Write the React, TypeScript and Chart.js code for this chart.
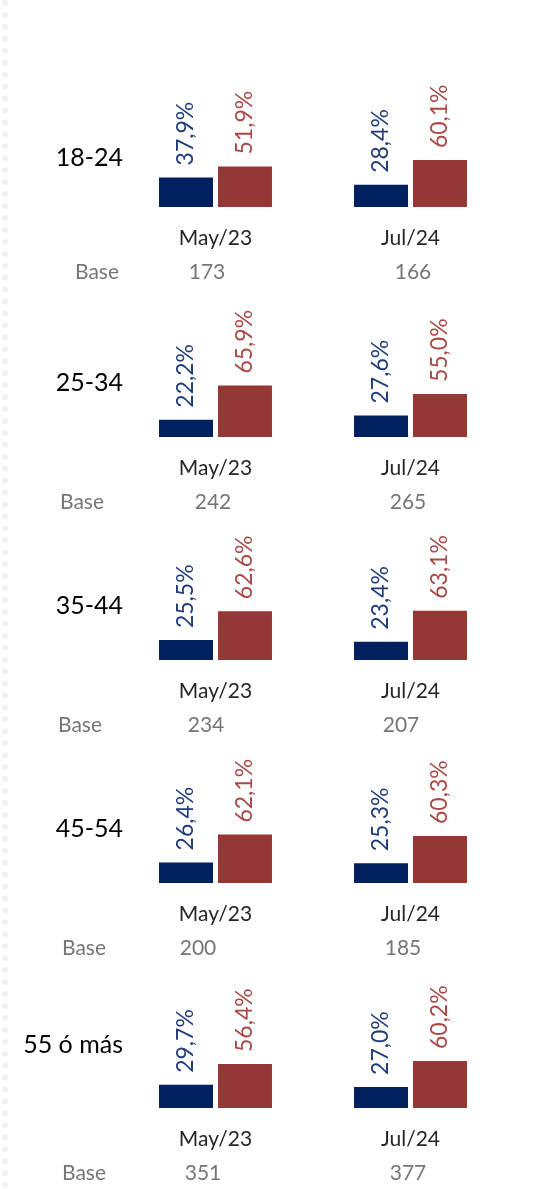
import React, { useEffect, useRef } from "react";
import { Chart, registerables } from "chart.js";

Chart.register(...registerables);

// ---- data ----
const ageGroups = ["18-24", "25-34", "35-44", "45-54", "55 ó más"];
const periods = ["May/23", "Jul/24"];
const blueValues = [
  [37.9, 28.4],
  [22.2, 27.6],
  [25.5, 23.4],
  [26.4, 25.3],
  [29.7, 27.0],
];
const redValues = [
  [51.9, 60.1],
  [65.9, 55.0],
  [62.6, 63.1],
  [62.1, 60.3],
  [56.4, 60.2],
];
const baseCounts = [
  [173, 166],
  [242, 265],
  [234, 207],
  [200, 185],
  [351, 377],
];
const baseLabel = "Base";

// ---- layout / style ----
const W = 539;
const H = 1189;
const PANEL_BASELINE = [207, 437, 660, 883, 1108];
const GROUP_LABEL_DY = [-49, -54, -54, -54, -63];
const BASE_LABEL_X = [75, 60, 58, 62, 62];
const BASE_NUM_X = [
  [207, 413],
  [213, 408],
  [206, 401],
  [198, 403],
  [203, 408],
];
const ABOVE = 135;
const BELOW = 85;
const PLOT_H = 78;
const AXIS_H = 44;
const FONT = "Lato, 'Open Sans', sans-serif";
const BLUE = "#002060";
const RED = "#953735";
const BLUE_TXT = "#203C7C";
const RED_TXT = "#AA4846";

const fmt = (v: number) => v.toFixed(1).replace(".", ",") + "%";

function Panel({ idx }: { idx: number }) {
  const ref = useRef<HTMLCanvasElement | null>(null);
  useEffect(() => {
    if (!ref.current) return;
    const labelPlugin = {
      id: "panelLabels",
      afterDatasetsDraw(chart: any) {
        const ctx = chart.ctx;
        ctx.save();
        ctx.font = `23px ${FONT}`;
        chart.data.datasets.forEach((ds: any, di: number) => {
          const meta = chart.getDatasetMeta(di);
          meta.data.forEach((bar: any, i: number) => {
            const v = ds.data[i];
            ctx.save();
            ctx.translate(bar.x, bar.y - 12);
            ctx.rotate(-Math.PI / 2);
            ctx.fillStyle = di === 0 ? BLUE_TXT : RED_TXT;
            ctx.textAlign = "left";
            ctx.textBaseline = "middle";
            ctx.fillText(fmt(v), 0, 0);
            ctx.restore();
          });
        });
        ctx.restore();
      },
      afterDraw(chart: any) {
        const ctx = chart.ctx;
        ctx.save();
        ctx.fillStyle = "#000000";
        ctx.font = `25px ${FONT}`;
        ctx.textAlign = "right";
        ctx.textBaseline = "middle";
        ctx.fillText(ageGroups[idx], 123, ABOVE + GROUP_LABEL_DY[idx]);
        ctx.fillStyle = "#767676";
        ctx.font = `21px ${FONT}`;
        ctx.textAlign = "left";
        ctx.fillText(baseLabel, BASE_LABEL_X[idx], ABOVE + 65);
        ctx.textAlign = "center";
        baseCounts[idx].forEach((b, i) => {
          ctx.fillText(String(b), BASE_NUM_X[idx][i], ABOVE + 65);
        });
        ctx.restore();
      },
    };
    const chart = new Chart(ref.current, {
      type: "bar",
      data: {
        labels: periods,
        datasets: [
          {
            label: "A",
            data: blueValues[idx],
            backgroundColor: BLUE,
            borderWidth: 0,
            barPercentage: 0.915,
            categoryPercentage: 0.605,
          },
          {
            label: "B",
            data: redValues[idx],
            backgroundColor: RED,
            borderWidth: 0,
            barPercentage: 0.915,
            categoryPercentage: 0.605,
          },
        ],
      },
      options: {
        responsive: false,
        animation: false,
        layout: {
          padding: { top: ABOVE - PLOT_H, bottom: BELOW - AXIS_H, left: 118, right: W - 508 },
        },
        plugins: { legend: { display: false }, tooltip: { enabled: false } },
        scales: {
          x: {
            grid: { display: false, drawTicks: false },
            border: { display: false },
            afterFit: (scale: any) => {
              scale.height = AXIS_H;
            },
            ticks: {
              padding: 19,
              color: "#262626",
              font: { family: FONT, size: 21 },
              maxRotation: 0,
            },
          },
          y: { display: false, min: 0, max: 100 },
        },
      },
      plugins: [labelPlugin],
    });
    return () => chart.destroy();
  }, [idx]);
  return (
    <canvas
      ref={ref}
      width={W}
      height={ABOVE + BELOW}
      style={{
        position: "absolute",
        left: 0,
        top: PANEL_BASELINE[idx] - ABOVE,
        width: W,
        height: ABOVE + BELOW,
      }}
    />
  );
}

export default function App() {
  return (
    <div
      style={{
        position: "absolute",
        left: 0,
        top: 0,
        width: W,
        height: H,
        background: "#ffffff",
        overflow: "hidden",
      }}
    >
      <div
        style={{
          position: "absolute",
          left: 2,
          top: 0,
          height: H,
          borderLeft: "6px dotted #f1f1f1",
        }}
      />
      {ageGroups.map((_, i) => (
        <Panel key={i} idx={i} />
      ))}
    </div>
  );
}
